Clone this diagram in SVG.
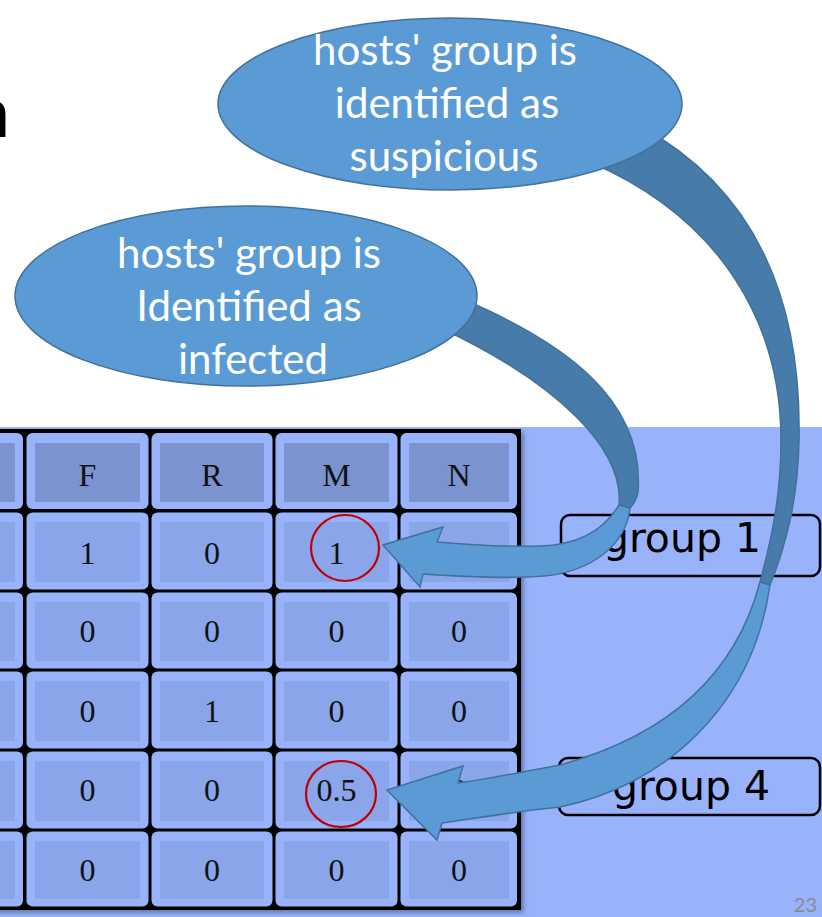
<svg xmlns="http://www.w3.org/2000/svg" width="822" height="917" viewBox="0 0 822 917">
  <defs>
    <style>
      .frame { fill: #98B3FC; }
      .hd { fill: #7B93CF; }
      .dt { fill: #8BA5EA; }
      .num { font-family: "Liberation Serif", "Times New Roman", serif; font-size: 32px; fill: #111; text-anchor: middle; }
      .grp { fill: none; stroke: #000; stroke-width: 2.5; }
      .grpt { font-family: "DejaVu Sans", Verdana, sans-serif; font-size: 41px; fill: #000; text-anchor: middle; }
      .bubble { fill: #5B9BD5; stroke: #41719C; stroke-width: 1.5; }
      .btxt { font-family: Lato, "Open Sans", sans-serif; font-size: 42px; fill: #fff; text-anchor: middle; }
      .back { fill: #477BAA; stroke: #41719C; stroke-width: 1.5; }
      .front { fill: #5B9BD5; stroke: #41719C; stroke-width: 1.5; }
      .mark { fill: none; stroke: #C00000; stroke-width: 2.2; }
    </style>
    <filter id="shadow" x="-5%" y="-5%" width="115%" height="115%">
      <feDropShadow dx="3" dy="3" stdDeviation="2" flood-color="#000" flood-opacity="0.3"/>
    </filter>
  </defs>

  <!-- page background -->
  <rect x="0" y="0" width="822" height="917" fill="#FFFFFF"/>
  <rect x="0" y="427" width="822" height="490" fill="#98B3FC"/>

  <!-- clipped heading letter -->
  <text x="-30" y="137" font-family="Lato, sans-serif" font-size="72" fill="#000">n</text>

  <!-- data table -->
  <g id="table">
    <rect x="-110" y="429" width="631" height="481" fill="#000" filter="url(#shadow)"/>
    <g id="cell-frames">
      <!-- columns: -100|25|150|274|399|519 ; rows: 432|511|591|670|750|830|908 -->
      <rect class="frame" x="-98" y="433" width="121" height="76" rx="6"/>
      <rect class="frame" x="26.5" y="433" width="122" height="76" rx="6"/>
      <rect class="frame" x="151.5" y="433" width="121" height="76" rx="6"/>
      <rect class="frame" x="275.5" y="433" width="122" height="76" rx="6"/>
      <rect class="frame" x="400.5" y="433" width="116.5" height="76" rx="6"/>

      <rect class="frame" x="-98" y="512.5" width="121" height="77" rx="6"/>
      <rect class="frame" x="26.5" y="512.5" width="122" height="77" rx="6"/>
      <rect class="frame" x="151.5" y="512.5" width="121" height="77" rx="6"/>
      <rect class="frame" x="275.5" y="512.5" width="122" height="77" rx="6"/>
      <rect class="frame" x="400.5" y="512.5" width="116.5" height="77" rx="6"/>

      <rect class="frame" x="-98" y="592.5" width="121" height="76" rx="6"/>
      <rect class="frame" x="26.5" y="592.5" width="122" height="76" rx="6"/>
      <rect class="frame" x="151.5" y="592.5" width="121" height="76" rx="6"/>
      <rect class="frame" x="275.5" y="592.5" width="122" height="76" rx="6"/>
      <rect class="frame" x="400.5" y="592.5" width="116.5" height="76" rx="6"/>

      <rect class="frame" x="-98" y="671.5" width="121" height="77" rx="6"/>
      <rect class="frame" x="26.5" y="671.5" width="122" height="77" rx="6"/>
      <rect class="frame" x="151.5" y="671.5" width="121" height="77" rx="6"/>
      <rect class="frame" x="275.5" y="671.5" width="122" height="77" rx="6"/>
      <rect class="frame" x="400.5" y="671.5" width="116.5" height="77" rx="6"/>

      <rect class="frame" x="-98" y="751.5" width="121" height="77" rx="6"/>
      <rect class="frame" x="26.5" y="751.5" width="122" height="77" rx="6"/>
      <rect class="frame" x="151.5" y="751.5" width="121" height="77" rx="6"/>
      <rect class="frame" x="275.5" y="751.5" width="122" height="77" rx="6"/>
      <rect class="frame" x="400.5" y="751.5" width="116.5" height="77" rx="6"/>

      <rect class="frame" x="-98" y="831.5" width="121" height="75" rx="6"/>
      <rect class="frame" x="26.5" y="831.5" width="122" height="75" rx="6"/>
      <rect class="frame" x="151.5" y="831.5" width="121" height="75" rx="6"/>
      <rect class="frame" x="275.5" y="831.5" width="122" height="75" rx="6"/>
      <rect class="frame" x="400.5" y="831.5" width="116.5" height="75" rx="6"/>
    </g>
    <g id="cell-fills">
      <rect class="hd" x="-90" y="443" width="105" height="59"/>
      <rect class="hd" x="35" y="443" width="105" height="59"/>
      <rect class="hd" x="160" y="443" width="104" height="59"/>
      <rect class="hd" x="284" y="443" width="105" height="59"/>
      <rect class="hd" x="409" y="443" width="100" height="59"/>

      <rect class="dt" x="-90" y="522" width="105" height="60"/>
      <rect class="dt" x="35" y="522" width="105" height="60"/>
      <rect class="dt" x="160" y="522" width="104" height="60"/>
      <rect class="dt" x="284" y="522" width="105" height="60"/>
      <rect class="dt" x="409" y="522" width="100" height="60"/>

      <rect class="dt" x="-90" y="602" width="105" height="59"/>
      <rect class="dt" x="35" y="602" width="105" height="59"/>
      <rect class="dt" x="160" y="602" width="104" height="59"/>
      <rect class="dt" x="284" y="602" width="105" height="59"/>
      <rect class="dt" x="409" y="602" width="100" height="59"/>

      <rect class="dt" x="-90" y="681" width="105" height="60"/>
      <rect class="dt" x="35" y="681" width="105" height="60"/>
      <rect class="dt" x="160" y="681" width="104" height="60"/>
      <rect class="dt" x="284" y="681" width="105" height="60"/>
      <rect class="dt" x="409" y="681" width="100" height="60"/>

      <rect class="dt" x="-90" y="761" width="105" height="60"/>
      <rect class="dt" x="35" y="761" width="105" height="60"/>
      <rect class="dt" x="160" y="761" width="104" height="60"/>
      <rect class="dt" x="284" y="761" width="105" height="60"/>
      <rect class="dt" x="409" y="761" width="100" height="60"/>

      <rect class="dt" x="-90" y="841" width="105" height="58"/>
      <rect class="dt" x="35" y="841" width="105" height="58"/>
      <rect class="dt" x="160" y="841" width="104" height="58"/>
      <rect class="dt" x="284" y="841" width="105" height="58"/>
      <rect class="dt" x="409" y="841" width="100" height="58"/>
    </g>
    <g id="cell-text">
      <text class="num" x="87.5" y="486">F</text>
      <text class="num" x="212" y="486">R</text>
      <text class="num" x="336.5" y="486">M</text>
      <text class="num" x="459" y="486">N</text>

      <text class="num" x="87.5" y="564">1</text>
      <text class="num" x="212" y="564">0</text>
      <text class="num" x="336.5" y="564">1</text>
      <text class="num" x="459" y="564">0</text>

      <text class="num" x="87.5" y="642">0</text>
      <text class="num" x="212" y="642">0</text>
      <text class="num" x="336.5" y="642">0</text>
      <text class="num" x="459" y="642">0</text>

      <text class="num" x="87.5" y="722">0</text>
      <text class="num" x="212" y="722">1</text>
      <text class="num" x="336.5" y="722">0</text>
      <text class="num" x="459" y="722">0</text>

      <text class="num" x="87.5" y="801">0</text>
      <text class="num" x="212" y="801">0</text>
      <text class="num" x="336.5" y="801">0.5</text>
      <text class="num" x="459" y="801">0</text>

      <text class="num" x="87.5" y="881">0</text>
      <text class="num" x="212" y="881">0</text>
      <text class="num" x="336.5" y="881">0</text>
      <text class="num" x="459" y="881">0</text>
    </g>
    <!-- highlighted values -->
    <ellipse class="mark" cx="345" cy="548" rx="34" ry="33"/>
    <ellipse class="mark" cx="341" cy="794" rx="35" ry="33"/>
  </g>

  <!-- group labels -->
  <g id="group1">
    <rect class="grp" x="561" y="515" width="259" height="61" rx="9"/>
    <text class="grpt" x="682" y="552">group 1</text>
  </g>
  <g id="group4">
    <rect class="grp" x="559" y="758" width="261" height="57" rx="9"/>
    <text class="grpt" x="691" y="800">group 4</text>
  </g>

  <!-- curved arrows from the bubbles to the marked cells -->
  <g id="connectors">
    <!-- infected bubble to M=1 -->
    <path class="back" d="M 460,298 C 565,342 645,400 638,492 C 637,498 634,504 630,508 L 619,505 C 624,450 560,385 445,330 Z"/>
    <path class="front" d="M 619,505 C 604,530 580,545 540,546 C 500,547 470,545 437,542 L 443,527 L 383,545 L 420,587 L 423,574 C 470,577 510,579 545,576 C 592,571 626,545 630,508 Z"/>
    <!-- suspicious bubble to M=0.5 -->
    <path class="back" d="M 640,126 C 748,185 802,290 799,440 C 798,500 786,545 770,585 L 760,582 C 774,530 781,490 781,440 C 781,322 720,218 590,162 Z"/>
    <path class="front" d="M 760,582 C 742,650 695,728 560,765 C 520,772 490,779 458,783 L 463,766 L 387,790 L 437,840 L 442,823 C 490,816 520,811 560,807 C 662,786 752,710 770,585 Z"/>
  </g>

  <!-- bubbles -->
  <g id="bubble-suspicious">
    <ellipse class="bubble" cx="450" cy="104" rx="232" ry="86"/>
    <text class="btxt" x="445" y="65">hosts' group is</text>
    <text class="btxt" x="447" y="118">identified as</text>
    <text class="btxt" x="444" y="171">suspicious</text>
  </g>
  <g id="bubble-infected">
    <ellipse class="bubble" cx="246" cy="296" rx="231" ry="90"/>
    <text class="btxt" x="249" y="268">hosts' group is</text>
    <text class="btxt" x="249" y="321">Identified as</text>
    <text class="btxt" x="253" y="374">infected</text>
  </g>

  <!-- slide number -->
  <text x="817" y="912" font-family="Lato, sans-serif" font-size="20" fill="#8B8B8B" text-anchor="end">23</text>
</svg>
